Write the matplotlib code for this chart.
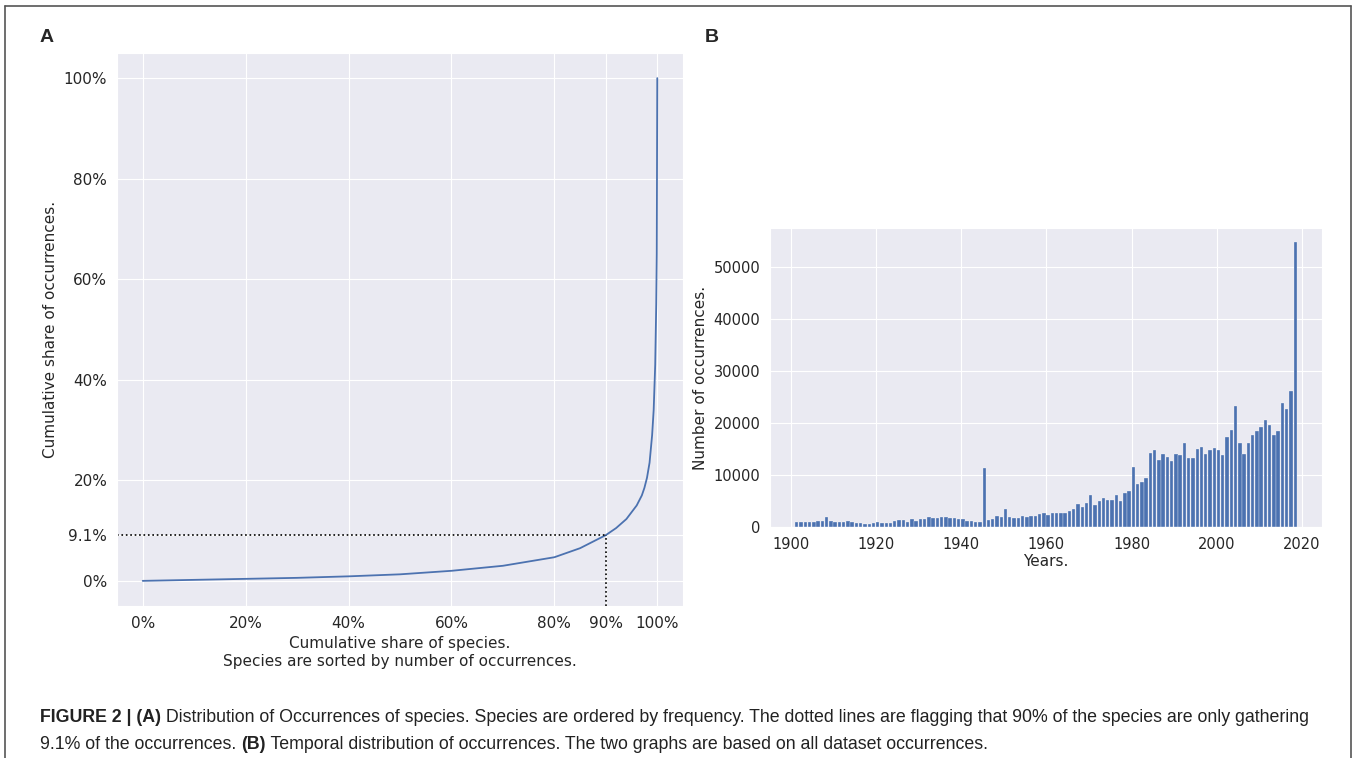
import numpy as np
import matplotlib
matplotlib.use("Agg")
import matplotlib.pyplot as plt
import seaborn as sns

# panel A: cumulative share of occurrences vs cumulative share of species
cum_species = [0.0, 0.1, 0.2, 0.3, 0.4, 0.5, 0.6, 0.7, 0.8, 0.85, 0.9, 0.92, 0.94,
               0.96, 0.97, 0.975, 0.98, 0.985, 0.99, 0.993, 0.996, 0.998, 0.999, 1.0]
cum_occ = [0.0, 0.002, 0.004, 0.006, 0.009, 0.013, 0.02, 0.03, 0.047, 0.065, 0.091, 0.105, 0.123,
           0.15, 0.17, 0.185, 0.205, 0.235, 0.29, 0.34, 0.43, 0.55, 0.65, 1.0]
flag_species = 0.90
flag_occ = 0.091
a_yticks = [0.0, 0.091, 0.2, 0.4, 0.6, 0.8, 1.0]
a_yticklabels = ["0%", "9.1%", "20%", "40%", "60%", "80%", "100%"]
a_xticks = [0.0, 0.2, 0.4, 0.6, 0.8, 0.9, 1.0]
a_xticklabels = ["0%", "20%", "40%", "60%", "80%", "90%", "100%"]

# panel B: occurrences per year
years = list(range(1901, 2019))
occurrences = [
    1000, 1000, 900, 900, 950, 1100, 1150, 1900, 1150, 900,          # 1901-1910
    900, 900, 1200, 1000, 850, 700, 600, 500, 750, 950,              # 1911-1920
    700, 850, 850, 1100, 1350, 1350, 1000, 1500, 1100, 1500,         # 1921-1930
    1500, 2000, 1800, 1800, 2000, 2000, 1800, 1650, 1600, 1550,      # 1931-1940
    1100, 1100, 900, 900, 11400, 1350, 1500, 2100, 1850, 3400,       # 1941-1950
    2000, 1800, 1800, 2200, 2000, 2200, 2200, 2500, 2600, 2400,      # 1951-1960
    2700, 2700, 2700, 2700, 3000, 3500, 4400, 3900, 4700, 6150,      # 1961-1970
    4300, 5000, 5600, 5100, 5200, 6100, 4900, 6600, 7000, 11600,     # 1971-1980
    8200, 8550, 9350, 14200, 14800, 12800, 14100, 13450, 12700, 14100,   # 1981-1990
    13800, 16150, 13200, 13200, 15000, 15400, 14100, 14750, 15200, 14750,  # 1991-2000
    13900, 17300, 18700, 23300, 16150, 14100, 16200, 17750, 18500, 19300,  # 2001-2010
    20500, 19550, 17600, 18400, 23800, 22750, 26150, 54700,              # 2011-2018
]
b_xticks = [1900, 1920, 1940, 1960, 1980, 2000, 2020]
b_yticks = [0, 10000, 20000, 30000, 40000, 50000]

caption_line1 = [("FIGURE 2 | (A)", "bold"),
                 (" Distribution of Occurrences of species. Species are ordered by frequency. "
                  "The dotted lines are flagging that 90% of the species are only gathering", "normal")]
caption_line2 = [("9.1% of the occurrences. ", "normal"), ("(B)", "bold"),
                 (" Temporal distribution of occurrences. The two graphs are based on all dataset occurrences.",
                  "normal")]

sns.set_style("darkgrid")
plt.rcParams["font.family"] = ["DejaVu Sans"]
blue = "#4c72b0"
W, H = 1358, 758

fig = plt.figure(figsize=(W / 100, H / 100), dpi=100)

# ---- panel A
ax1 = fig.add_axes([117 / W, 1 - 606 / H, 566 / W, 553 / H])
ax1.plot(cum_species, cum_occ, color=blue, lw=1.3)
ax1.set_xlim(-0.05, 1.05)
ax1.set_ylim(-0.05, 1.05)
x0 = ax1.get_xlim()[0]
y0 = ax1.get_ylim()[0]
ax1.plot([x0, flag_species], [flag_occ, flag_occ], color="black", ls=":", lw=1.2)
ax1.plot([flag_species, flag_species], [y0, flag_occ], color="black", ls=":", lw=1.2)
ax1.set_yticks(a_yticks)
ax1.set_yticklabels(a_yticklabels, fontsize=11)
ax1.set_xticks(a_xticks)
ax1.set_xticklabels(a_xticklabels, fontsize=11)
ax1.set_xlabel("Cumulative share of species.\nSpecies are sorted by number of occurrences.", fontsize=11)
ax1.set_ylabel("Cumulative share of occurrences.", fontsize=11)

# ---- panel B
ax2 = fig.add_axes([770 / W, 1 - 527 / H, 552 / W, 299 / H])
ax2.bar(years, occurrences, width=0.8, align="edge", color=blue, edgecolor="white", linewidth=0.2)
ax2.set_xticks(b_xticks)
ax2.set_yticks(b_yticks)
ax2.tick_params(labelsize=10.5)
ax2.set_xlabel("Years.", fontsize=11, labelpad=2)
ax2.set_ylabel("Number of occurrences.", fontsize=11)

# panel letters
fig.text(40 / W, 1 - 37 / H, "A", fontsize=14, fontweight="bold", va="center",
         family=["Liberation Sans", "DejaVu Sans"])
fig.text(705 / W, 1 - 37 / H, "B", fontsize=14, fontweight="bold", va="center",
         family=["Liberation Sans", "DejaVu Sans"])

# figure border (frame of the published figure)
border_col = "#555555"
fig.add_artist(plt.Line2D([5 / W, 1351 / W], [1 - 6 / H, 1 - 6 / H], color=border_col, lw=1.2))
fig.add_artist(plt.Line2D([5 / W, 5 / W], [0, 1 - 6 / H], color=border_col, lw=1.2))
fig.add_artist(plt.Line2D([1351 / W, 1351 / W], [0, 1 - 6 / H], color=border_col, lw=1.2))

# caption with mixed bold runs
renderer = fig.canvas.get_renderer()
cap_family = ["Liberation Sans", "DejaVu Sans"]


def draw_runs(runs, x, y):
    for txt, weight in runs:
        t = fig.text(x, y, txt, fontsize=12.8, fontweight=weight, family=cap_family,
                     va="baseline", color="#222222")
        bb = t.get_window_extent(renderer)
        x += bb.width / W


draw_runs(caption_line1, 40 / W, 1 - 722 / H)
draw_runs(caption_line2, 40 / W, 1 - 749 / H)

fig.savefig("out.png", dpi=100)
